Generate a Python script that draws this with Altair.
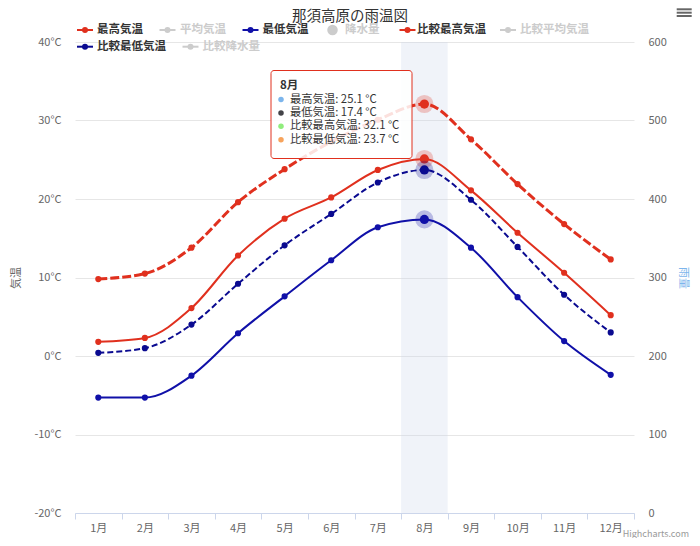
import altair as alt
import pandas as pd

# ---------------- data ----------------
months = ["1月", "2月", "3月", "4月", "5月", "6月", "7月", "8月", "9月", "10月", "11月", "12月"]
high = [1.8, 2.3, 6.1, 12.8, 17.5, 20.2, 23.7, 25.1, 21.1, 15.7, 10.6, 5.2]
low = [-5.3, -5.3, -2.5, 2.9, 7.6, 12.2, 16.4, 17.4, 13.8, 7.5, 1.9, -2.4]
cmp_high = [9.8, 10.5, 13.8, 19.6, 23.8, 27.3, 30.1, 32.1, 27.6, 21.9, 16.8, 12.3]
cmp_low = [0.4, 1.0, 4.0, 9.2, 14.1, 18.1, 22.1, 23.7, 19.9, 13.9, 7.8, 3.0]
temp_ticks = [-20, -10, 0, 10, 20, 30, 40]
rain_ticks = [0, 100, 200, 300, 400, 500, 600]
hover_month = "8月"
title_text = "那須高原の雨温図"
legend_row1 = ["最高気温", "平均気温", "最低気温", "降水量", "比較最高気温", "比較平均気温"]
legend_row2 = ["比較最低気温", "比較降水量"]
tooltip_names = ["最高気温", "最低気温", "比較最高気温", "比較最低気温"]

# ---------------- style ----------------
FONT = "Noto Sans CJK JP"
W, H = 559, 471
RED = "#e0301e"
BLUE = "#1010a8"
NAVY = "#0a0a90"
GREY = "#cccccc"

series = [
    ("最高気温", high, RED, 2, None),
    ("最低気温", low, BLUE, 2, None),
    ("比較最高気温", cmp_high, RED, 3, [9, 3]),
    ("比較最低気温", cmp_low, NAVY, 2, [6, 3]),
]
hidden = {"平均気温", "降水量", "比較平均気温", "比較降水量"}

x_scale = alt.Scale(type="band", domain=months, paddingInner=0, paddingOuter=0)
x_axis = alt.Axis(
    tickBand="extent", domainColor="#ccd6eb", tickColor="#ccd6eb", tickSize=6,
    labelAngle=0, labelColor="#666666", labelFontSize=11, labelFont=FONT,
    labelPadding=3, grid=False, title=None,
)
y_scale = alt.Scale(domain=[-20, 40], nice=False, zero=False)
y_axis = alt.Axis(
    values=temp_ticks, labelExpr="datum.value + '°C'", grid=True, gridColor="#e6e6e6",
    domain=False, ticks=False, labelPadding=14, labelColor="#666666", labelFontSize=11,
    labelFont=FONT, title="気温", titleX=-59, titleY=H / 2, titleAngle=270,
    titleAlign="center", titleBaseline="middle", titleColor="#666666", titleFontSize=11,
    titleFontWeight="normal", titleFont=FONT,
)


def X(**kw):
    return alt.X("month:N", sort=months, scale=x_scale, axis=x_axis, **kw)


def Y():
    return alt.Y("value:Q", scale=y_scale, axis=y_axis)


layers = []

# crosshair band on hovered month
band_df = pd.DataFrame({"month": [hover_month]})
layers.append(
    alt.Chart(band_df).mark_rect(color="#ccd6eb", opacity=0.3).encode(
        x=X(), y=alt.value(0), y2=alt.value(H)
    )
)

# series lines + points
for name, vals, color, width, dash in series:
    df = pd.DataFrame({"month": months, "value": vals})
    line_kw = dict(color=color, strokeWidth=width, interpolate="monotone")
    if dash:
        line_kw["strokeDash"] = dash
    layers.append(alt.Chart(df).mark_line(**line_kw).encode(x=X(bandPosition=0.5), y=Y()))
    layers.append(
        alt.Chart(df).mark_point(filled=True, color=color, size=38, opacity=1).encode(
            x=X(bandPosition=0.5), y=Y()
        )
    )
    hdf = df[df["month"] == hover_month]
    layers.append(
        alt.Chart(hdf).mark_point(filled=True, color=color, size=330, opacity=0.25).encode(
            x=X(bandPosition=0.5), y=Y()
        )
    )
    layers.append(
        alt.Chart(hdf).mark_point(filled=True, color=color, size=85, opacity=1).encode(
            x=X(bandPosition=0.5), y=Y()
        )
    )

temp_chart = alt.layer(*layers)

# right axis (precipitation scale; series hidden)
rain_layer = alt.Chart(pd.DataFrame({"rain": [rain_ticks[0], rain_ticks[-1]]})).mark_point(
    opacity=0
).encode(
    y=alt.Y(
        "rain:Q",
        scale=alt.Scale(domain=[rain_ticks[0], rain_ticks[-1]], nice=False),
        axis=alt.Axis(
            orient="right", values=rain_ticks, grid=False, domain=False, ticks=False,
            labelPadding=14, labelColor="#666666", labelFontSize=11, labelFont=FONT,
            title="雨量", titleX=48, titleY=H / 2, titleAngle=90, titleAlign="center",
            titleBaseline="middle", titleColor="#7cb5ec", titleFontSize=11,
            titleFontWeight="normal", titleFont=FONT,
        ),
    )
)

# ---------------- decorations (title, legend, tooltip, menu, credits) ----------------
one = pd.DataFrame({"k": [0]})
deco = []


def text_layer(txt, x, y, size=12, color="#333333", weight="normal", align="left", baseline="middle"):
    return alt.Chart(one).mark_text(
        text=txt, font=FONT, fontSize=size, color=color, fontWeight=weight,
        align=align, baseline=baseline,
    ).encode(x=alt.value(x), y=alt.value(y))


deco.append(text_layer(title_text, 275, -32.5, size=14.5, align="center", baseline="top"))

legend_sym_x = {"最高気温": 10, "平均気温": 92.5, "最低気温": 175.5, "降水量": 257.5,
                "比較最高気温": 332.5, "比較平均気温": 433, "比較最低気温": 10, "比較降水量": 115.5}
legend_txt_x = {"最高気温": 22, "平均気温": 105, "最低気温": 187.5, "降水量": 270,
                "比較最高気温": 342, "比較平均気温": 445, "比較最低気温": 22, "比較降水量": 127.5}
row_y = {**{n: -12 for n in legend_row1}, **{n: 4.7 for n in legend_row2}}
legend_color = {"最高気温": RED, "最低気温": BLUE, "比較最高気温": RED, "比較最低気温": NAVY}

for name in legend_row1 + legend_row2:
    cx, tx, ry = legend_sym_x[name], legend_txt_x[name], row_y[name]
    col = GREY if name in hidden else legend_color[name]
    if name == "降水量":
        deco.append(alt.Chart(one).mark_point(filled=True, color=GREY, size=110, opacity=1).encode(
            x=alt.value(cx), y=alt.value(ry)))
    else:
        deco.append(alt.Chart(one).mark_rule(color=col, strokeWidth=2).encode(
            x=alt.value(cx - 8), x2=alt.value(cx + 8), y=alt.value(ry)))
        deco.append(alt.Chart(one).mark_point(filled=True, color=col, size=36, opacity=1).encode(
            x=alt.value(cx), y=alt.value(ry)))
    deco.append(text_layer(name, tx, ry, size=11.5,
                           color="#cccccc" if name in hidden else "#333333", weight="bold"))

# tooltip
deco.append(alt.Chart(one).mark_rect(
    fill="#ffffff", fillOpacity=0.85, stroke=RED, strokeWidth=1, cornerRadius=3
).encode(x=alt.value(196), x2=alt.value(337), y=alt.value(28.5), y2=alt.value(116.5)))
deco.append(text_layer(hover_month, 205, 43.5, size=11.5, weight="bold"))
idx = months.index(hover_month)
tt_vals = {"最高気温": high[idx], "最低気温": low[idx], "比較最高気温": cmp_high[idx], "比較最低気温": cmp_low[idx]}
dot_colors = ["#7cb5ec", "#434348", "#90ed7d", "#f7a35c"]
for i, name in enumerate(tooltip_names):
    yy = 57.5 + i * 13.4
    deco.append(alt.Chart(one).mark_point(filled=True, color=dot_colors[i], size=30, opacity=1).encode(
        x=alt.value(206), y=alt.value(yy)))
    deco.append(text_layer(f"{name}: {tt_vals[name]} °C", 215, yy, size=11.3))

# menu icon
for yy in [-32.7, -29.3, -26.0]:
    deco.append(alt.Chart(one).mark_rule(color="#666666", strokeWidth=2).encode(
        x=alt.value(601.7), x2=alt.value(616.7), y=alt.value(yy)))

# credits
deco.append(text_layer("Highcharts.com", 614, 491.5, size=9, color="#999999", align="right"))

chart = alt.layer(
    alt.layer(temp_chart, rain_layer).resolve_scale(y="independent"),
    *deco,
).properties(
    width=W, height=H,
    autosize=alt.AutoSizeParams(type="none"),
    padding={"left": 67, "top": 34, "right": 58, "bottom": 25},
).configure_view(strokeWidth=0)

chart.save("out.html", embed_options={"renderer": "svg", "actions": False})
